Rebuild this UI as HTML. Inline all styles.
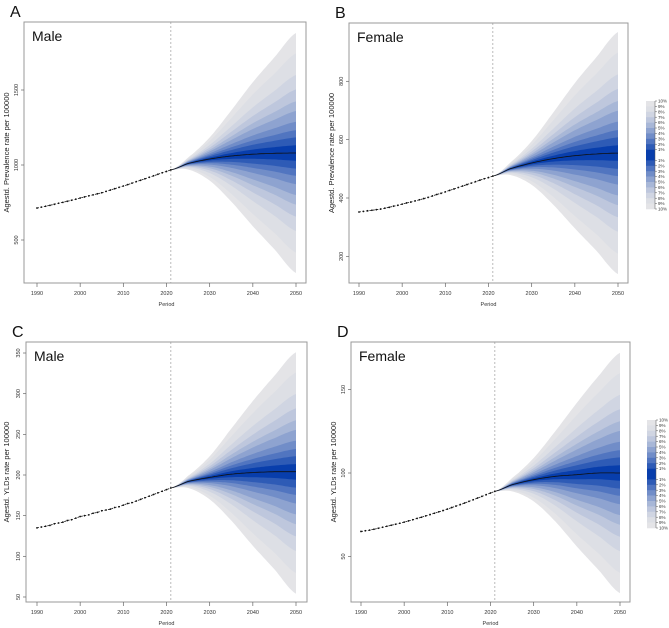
<!DOCTYPE html>
<html><head><meta charset="utf-8"><style>
html,body{margin:0;padding:0;background:#fff;}
svg{display:block;font-family:"Liberation Sans",Arial,sans-serif;}
</style></head><body>
<svg id="fig" width="669" height="628" viewBox="0 0 669 628" xmlns="http://www.w3.org/2000/svg"></svg>
<script>
// ---- data ----
const histYears = [1990,1991,1992,1993,1994,1995,1996,1997,1998,1999,2000,2001,2002,2003,2004,2005,2006,2007,2008,2009,2010,2011,2012,2013,2014,2015,2016,2017,2018,2019,2020,2021];
const histA = [713,719,725,731,738,745,751,758,765,772,780,787,794,801,808,815,824,833,842,851,860,869,879,889,898,908,918,928,938,948,957,967];
const histB = [352,354,356,358,360,362,365,368,372,375,379,383,386,390,394,398,402,407,412,416,421,426,431,436,441,446,451,456,461,466,470,475];
const histC = [135,136,137,138,140,141,142,144,145,147,149,150,151,153,154,156,157,158,160,161,163,165,166,168,170,172,174,176,178,180,182,184];
const histD = [65,65.4,65.8,66.3,66.9,67.5,68.1,68.7,69.3,69.9,70.6,71.3,72,72.8,73.5,74.3,75.1,75.9,76.7,77.5,78.4,79.3,80.2,81.1,82,83,84,85,86,87,88,89];
const fcYears = [2021,2025,2030,2035,2040,2045,2050];
const medA = [967,1010,1040,1060,1072,1078,1080];
const upA = [967,1050,1184,1364,1552,1718,1880];
const loA = [967,970,896,756,592,438,280];
const medB = [475,500,520,535,545,551,554];
const upB = [475,521,595,693,794,883,969];
const loB = [475,479,445,377,296,219,139];
const medC = [184,192,197,201,203,204,204];
const upC = [184,199,223,257,291,322,351];
const loC = [184,184,170,144,113,84,54];
const medD = [89,93,96,98,99,100,100];
const upD = [89,97,109,125,142,158,172];
const loD = [89,89,83,71,56,42,28];
const ticksA = [500,1000,1500];
const ticksB = [200,400,600,800];
const ticksC = [50,100,150,200,250,300,350];
const ticksD = [50,100,150];
const xTicks = [1990,2000,2010,2020,2030,2040,2050];
const legendLabels = ["10%","9%","8%","7%","6%","5%","4%","3%","2%","1%","1%","2%","3%","4%","5%","6%","7%","8%","9%","10%"];

// ---- drawing ----
const NS="http://www.w3.org/2000/svg";
const svg=document.getElementById('fig');
function mk(tag,attrs,parent){const e=document.createElementNS(NS,tag);for(const k in attrs)e.setAttribute(k,attrs[k]);(parent||svg).appendChild(e);return e;}
const fracs=[1,.83,.65,.53,.43,.35,.26,.19,.13,.064];
function bandColor(i){const a=[228,228,231],b=[8,62,172];const t=Math.pow(i/9,1.6);
 return 'rgb('+a.map((v,j)=>Math.round(v+(b[j]-v)*t)).join(',')+')';}
function cr(xs,ys,x){
 let i=0;while(i<xs.length-2&&x>xs[i+1])i++;
 const t=(x-xs[i])/(xs[i+1]-xs[i]);
 const p0=ys[Math.max(i-1,0)],p1=ys[i],p2=ys[i+1],p3=ys[Math.min(i+2,ys.length-1)];
 return 0.5*((2*p1)+(-p0+p2)*t+(2*p0-5*p1+4*p2-p3)*t*t+(-p0+3*p1-3*p2+p3)*t*t*t);}

const panels=[
 {id:'a',letter:'A',sex:'Male',box:[24,22,306,283],x0:37,x1:296,yRef:[1000,165,0.15],ticks:ticksA,hist:histA,med:medA,up:upA,lo:loA,ytitle:'Agestd. Prevalence rate per 100000',yt:6,legend:false},
 {id:'b',letter:'B',sex:'Female',box:[349,23,628,283],x0:359,x1:618,yRef:[400,198,0.2917],ticks:ticksB,hist:histB,med:medB,up:upB,lo:loB,ytitle:'Agestd. Prevalence rate per 100000',yt:331,legend:[646,101,209]},
 {id:'c',letter:'C',sex:'Male',box:[26,342,307,602],x0:37,x1:296,yRef:[200,475,0.8133],ticks:ticksC,hist:histC,med:medC,up:upC,lo:loC,ytitle:'Agestd. YLDs rate per 100000',yt:6,legend:false},
 {id:'d',letter:'D',sex:'Female',box:[351,342,630,602],x0:361,x1:620,yRef:[100,473,1.67],ticks:ticksD,hist:histD,med:medD,up:upD,lo:loD,ytitle:'Agestd. YLDs rate per 100000',yt:333,legend:[647,420,528]}
];
panels.forEach(p=>{
 const g=mk('g',{});  
 const X=yr=>p.x0+(yr-1990)/60*(p.x1-p.x0);
 const Y=v=>p.yRef[1]-(v-p.yRef[0])*p.yRef[2];
 const [bl,bt,br,bb]=p.box;
 const L=mk('text',{x:bl-14,y:bt-5,'font-size':16,fill:'#111'},g);L.textContent=p.letter;
 
 const yrs=[];for(let y=2021;y<=2050;y+=0.5)yrs.push(y);
 fracs.forEach((f,i)=>{
  const top=yrs.map(y=>{const c=cr(fcYears,p.med,y);return [X(y),Y(c+f*(cr(fcYears,p.up,y)-c))];});
  const bot=yrs.map(y=>{const c=cr(fcYears,p.med,y);return [X(y),Y(c-f*(c-cr(fcYears,p.lo,y)))];}).reverse();
  const poly=mk('polygon',{points:top.concat(bot).map(q=>q[0].toFixed(1)+','+q[1].toFixed(1)).join(' '),fill:bandColor(i)},g);
  
 });
 const ml=mk('polyline',{points:yrs.map(y=>X(y).toFixed(1)+','+Y(cr(fcYears,p.med,y)).toFixed(1)).join(' '),fill:'none',stroke:'#111','stroke-width':0.8},g);
 
 const dv=mk('line',{x1:X(2021),x2:X(2021),y1:bt,y2:bb,stroke:'#aaa','stroke-width':0.8,'stroke-dasharray':'2,2'},g);
 
 const hl=mk('polyline',{points:histYears.map((y,i)=>X(y).toFixed(1)+','+Y(p.hist[i]).toFixed(1)).join(' '),fill:'none',stroke:'#111','stroke-width':0.8,'stroke-dasharray':'2,1.5'},g);
 
 histYears.forEach((y,i)=>{const d=mk('circle',{cx:X(y),cy:Y(p.hist[i]),r:0.9,fill:'#111'},g);
  });
 const bx=mk('rect',{x:bl,y:bt,width:br-bl,height:bb-bt,fill:'none',stroke:'#999','stroke-width':1},g);
 
 const sx=mk('text',{x:bl+8,y:bt+19,'font-size':14,fill:'#111'},g);sx.textContent=p.sex;
 
 xTicks.forEach(t=>{const l=mk('line',{x1:X(t),x2:X(t),y1:bb,y2:bb+4,stroke:'#666','stroke-width':0.7},g);
  
  const tx=mk('text',{x:X(t),y:bb+12,'font-size':5.5,'text-anchor':'middle',fill:'#333'},g);tx.textContent=t;
  });
 const xt=mk('text',{x:(p.x0+p.x1)/2,y:bb+23,'font-size':5.5,'text-anchor':'middle',fill:'#333'},g);xt.textContent='Period';
 
 p.ticks.forEach(t=>{const yy=Y(t);const l=mk('line',{x1:bl-3,x2:bl,y1:yy,y2:yy,stroke:'#666','stroke-width':0.7},g);
  
  const tx=mk('text',{x:0,y:0,'font-size':5.5,'text-anchor':'middle',fill:'#333',transform:'translate('+(bl-6)+','+yy+') rotate(-90)'},g);tx.textContent=t;
  });
 const yt=mk('text',{x:0,y:0,'font-size':7.5,'text-anchor':'middle',fill:'#222',transform:'translate('+(p.yt+3)+','+((bt+bb)/2)+') rotate(-90)'},g);yt.textContent=p.ytitle;
 
 if(p.legend){const [lx,ly0,ly1]=p.legend;const lg=mk('g',{},g);
  
  const h=(ly1-ly0)/20;
  legendLabels.forEach((lab,i)=>{const lvl=i<10?i:19-i;
   const r=mk('rect',{x:lx,y:ly0+i*h,width:9,height:h+0.3,fill:bandColor(lvl)},lg);
   
   const yy=ly0+i*h+h/2+(i<10?-h/2:h/2);
   const tk=mk('line',{x1:lx+9,x2:lx+11,y1:yy,y2:yy,stroke:'#555','stroke-width':0.5},lg);
   
   const tx=mk('text',{x:lx+12,y:yy+1.6,'font-size':4.5,fill:'#333'},lg);tx.textContent=lab;
   });
  const ax=mk('line',{x1:lx+9,x2:lx+9,y1:ly0,y2:ly1,stroke:'#555','stroke-width':0.5},lg);
  
 }
});
</script>
</body></html>
